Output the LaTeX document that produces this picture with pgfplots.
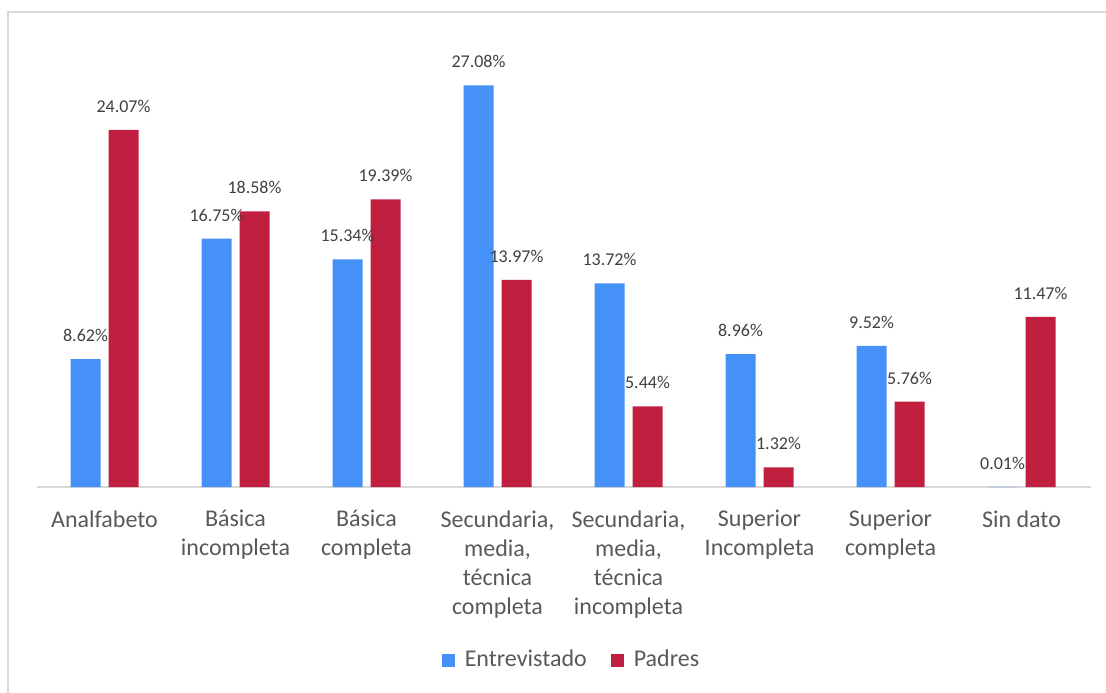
\documentclass[border=0pt]{standalone}
\usepackage{fontspec}
\setmainfont{Carlito}
\usepackage{pgfplots}
\pgfplotsset{compat=1.18}
\definecolor{cblue}{RGB}{69,145,247}
\definecolor{cred}{RGB}{192,31,64}
\definecolor{ticktext}{RGB}{89,89,89}
\definecolor{labtext}{RGB}{64,64,64}
\definecolor{framec}{RGB}{217,217,217}
\begin{document}
\begin{tikzpicture}
\useasboundingbox (-19.5pt,-102.5pt) rectangle (533.5pt,243.5pt);
\draw[framec, line width=1pt] (-15.5pt,-103pt) -- (-15.5pt,237.5pt) -- (534pt,237.5pt);
\draw[framec, line width=0.75pt] (-0.75pt,0pt) -- (526pt,0pt);
\begin{axis}[
  at={(0pt,0pt)}, anchor=south west,
  scale only axis, width=524pt, height=222.5pt,
  xmin=-0.5, xmax=7.5, ymin=0, ymax=30,
  ybar=4pt, bar width=15pt,
  axis y line=none,
  axis x line=bottom,
  x axis line style={draw=none},
  xtick={0,...,7},
  major tick length=0pt,
  xticklabels={Analfabeto, {Básica\\incompleta}, {Básica\\completa}, {Secundaria,\\media,\\técnica\\completa}, {Secundaria,\\media,\\técnica\\incompleta}, {Superior\\Incompleta}, {Superior\\completa}, {Sin dato}},
  xticklabel style={text=ticktext, font=\fontsize{12}{14.5}\selectfont, align=center, anchor=north, inner sep=0pt, yshift=-11.5pt},
  point meta=explicit symbolic,
  nodes near coords,
  every node near coord/.append style={font=\fontsize{9}{11}\selectfont, text=labtext, inner sep=0pt, anchor=south, yshift=8.5pt},
  legend style={at={(0.509,-0.389)}, anchor=center, draw=none, fill=none, legend columns=2, font=\fontsize{12}{14}\selectfont, text=ticktext, /tikz/every odd column/.append style={column sep=3pt}, /tikz/every even column/.append style={column sep=10pt}},
  legend image code/.code={\fill[#1] (0pt,-3.25pt) rectangle (6.5pt,3.25pt);},
]
\addplot[fill=cblue, draw=none] coordinates {
 (0,8.62) [8.62\%] (1,16.75) [16.75\%] (2,15.34) [15.34\%] (3,27.08) [27.08\%]
 (4,13.72) [13.72\%] (5,8.96) [8.96\%] (6,9.52) [9.52\%] (7,0.01) [0.01\%]};
\addplot[fill=cred, draw=none] coordinates {
 (0,24.07) [24.07\%] (1,18.58) [18.58\%] (2,19.39) [19.39\%] (3,13.97) [13.97\%]
 (4,5.44) [5.44\%] (5,1.32) [1.32\%] (6,5.76) [5.76\%] (7,11.47) [11.47\%]};
\legend{Entrevistado, Padres}
\end{axis}
\end{tikzpicture}
\end{document}
